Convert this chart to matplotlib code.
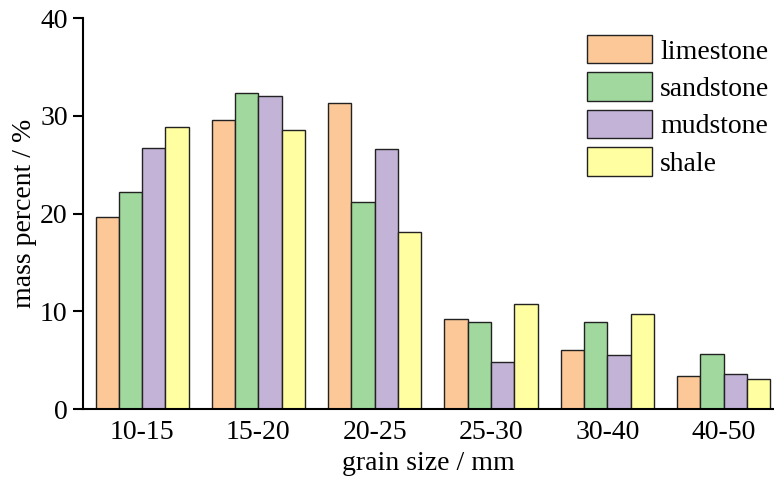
import matplotlib.pyplot as plt
import numpy as np

plt.rcParams['font.family'] = ['Liberation Serif', 'DejaVu Serif']

sizes = ['10-15', '15-20', '20-25', '25-30', '30-40', '40-50']
rocks = ['limestone', 'sandstone', 'mudstone', 'shale']
limestone = [19.7, 29.6, 31.3, 9.2, 6.1, 3.4]
sandstone = [22.2, 32.3, 21.2, 8.9, 8.9, 5.7]
mudstone = [26.7, 32.0, 26.6, 4.8, 5.6, 3.6]
shale = [28.9, 28.5, 18.1, 10.8, 9.7, 3.1]
colors = ['#FCC897', '#A0D89D', '#C3B3D7', '#FFFEA0']

fig = plt.figure(figsize=(7.74, 4.79), dpi=100)
ax = fig.add_axes([83 / 774, 1 - 409.3 / 479, 1 - 83 / 774, (409.3 - 18) / 479])

x = np.arange(len(sizes))
w = 0.2
for i, (name, vals) in enumerate(zip(rocks, [limestone, sandstone, mudstone, shale])):
    ax.bar(x + (i - 1.5) * w, vals, width=w, color=colors[i],
           edgecolor='#222222', linewidth=1.0, label=name, zorder=2)

ax.set_xlim(-0.508, 5.433)
ax.set_ylim(0, 40)
ax.set_yticks([0, 10, 20, 30, 40])
ax.set_xticks(x)
ax.set_xticklabels(sizes)

for s in ['top', 'right']:
    ax.spines[s].set_visible(False)
for s in ['left', 'bottom']:
    ax.spines[s].set_linewidth(1.5)

ax.tick_params(axis='y', direction='out', length=7, width=1.5, labelsize=20, pad=4)
ax.tick_params(axis='x', direction='in', length=6, width=1.5, labelsize=20, pad=8)

ax.set_xlabel('grain size / mm', fontsize=20, labelpad=4)
ax.set_ylabel('mass percent / %', fontsize=20, labelpad=2)

fig.legend(loc='upper left', bbox_to_anchor=(587 / 774, 1 - 35 / 479),
           frameon=False, fontsize=20, borderpad=0, borderaxespad=0,
           handlelength=2.34, handleheight=1.2, labelspacing=0.28,
           handletextpad=0.3)

fig.savefig('out.png', dpi=100)
